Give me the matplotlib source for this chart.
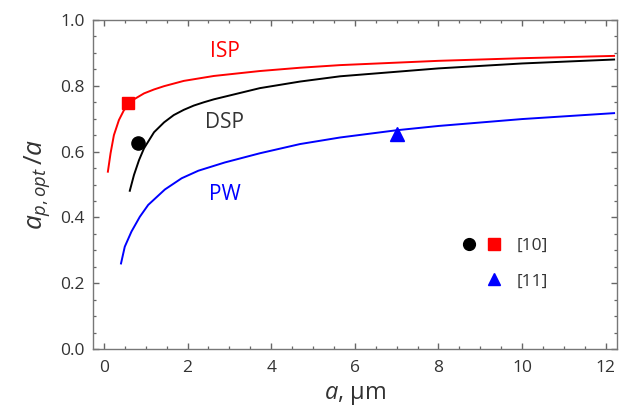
import matplotlib
matplotlib.use("Agg")
import matplotlib.pyplot as plt
from matplotlib.ticker import MultipleLocator
from matplotlib.legend_handler import HandlerTuple
from matplotlib.lines import Line2D

# curve readings (a in um, a_p,opt / a)
isp_x = [0.096, 0.16, 0.24, 0.36, 0.48, 0.72, 0.96, 1.20, 1.44, 1.91, 2.63, 3.73, 4.69, 5.65, 8.00, 10.0, 12.2]
isp_y = [0.539, 0.595, 0.650, 0.696, 0.726, 0.759, 0.777, 0.789, 0.799, 0.815, 0.830, 0.845, 0.855, 0.863, 0.876, 0.884, 0.891]

dsp_x = [0.62, 0.72, 0.84, 0.96, 1.20, 1.44, 1.67, 1.91, 2.15, 2.39, 2.63, 3.73, 4.69, 5.65, 8.00, 10.0, 12.2]
dsp_y = [0.481, 0.529, 0.574, 0.610, 0.659, 0.689, 0.711, 0.727, 0.740, 0.750, 0.759, 0.793, 0.813, 0.829, 0.853, 0.868, 0.880]

pw_x = [0.41, 0.50, 0.66, 0.86, 1.06, 1.46, 1.86, 2.26, 2.89, 3.73, 4.69, 5.65, 7.00, 8.00, 10.0, 12.2]
pw_y = [0.260, 0.311, 0.357, 0.402, 0.438, 0.485, 0.519, 0.542, 0.567, 0.595, 0.623, 0.643, 0.665, 0.678, 0.699, 0.717]

# literature points
ref10_isp = (0.58, 0.749)
ref10_dsp = (0.81, 0.625)
ref11_pw = (7.0, 0.655)

curve_labels = ["ISP", "DSP", "PW"]
label_pos = [(2.9, 0.903), (2.88, 0.69), (2.89, 0.47)]
ref_labels = ["[10]", "[11]"]

TEXT = "#333333"
plt.rcParams["font.family"] = ["Open Sans", "DejaVu Sans"]
plt.rcParams["mathtext.fontset"] = "custom"
plt.rcParams["mathtext.it"] = "Open Sans:italic"
plt.rcParams["mathtext.rm"] = "Open Sans"

fig = plt.figure(figsize=(6.22, 4.09), dpi=100)
ax = fig.add_axes([0.1495, 0.1467, 0.8425, 0.8043])

ax.plot(isp_x, isp_y, color="#ff0000", lw=1.4)
ax.plot(dsp_x, dsp_y, color="black", lw=1.4)
ax.plot(pw_x, pw_y, color="#0000ff", lw=1.4)

ax.plot(*ref10_isp, "s", color="#ff0000", ms=8.5)
ax.plot(*ref10_dsp, "o", color="black", ms=9.5)
ax.plot(*ref11_pw, "^", color="#0000ff", ms=9.5)

colors = ["#ff0000", TEXT, "#0000ff"]
for lab, (lx, ly), c in zip(curve_labels, label_pos, colors):
    ax.text(lx, ly, lab, color=c, fontsize=15, ha="center", va="center")

ax.set_xlim(-0.26, 12.27)
ax.set_ylim(0.0, 1.0)
ax.xaxis.set_major_locator(MultipleLocator(2))
ax.xaxis.set_minor_locator(MultipleLocator(0.5))
ax.yaxis.set_major_locator(MultipleLocator(0.2))
ax.yaxis.set_minor_locator(MultipleLocator(0.05))
ax.yaxis.set_major_formatter(lambda v, p: f"{v:.1f}")

ax.tick_params(which="both", direction="in", top=True, right=True,
               color="#666666", labelcolor=TEXT, labelsize=12.5)
ax.tick_params(which="major", length=4.5, width=1.0, pad=6)
ax.tick_params(axis="x", which="major", pad=8)
ax.tick_params(which="minor", length=2.5, width=0.9)
for sp in ax.spines.values():
    sp.set_color("#777777")
    sp.set_linewidth(1.0)

ax.set_xlabel(r"$a$, µm", fontsize=17, color=TEXT, labelpad=5)
ax.set_ylabel(r"$a_{p,opt}\,/a$", fontsize=19, color=TEXT, labelpad=6)

# legend: circle + square for [10], triangle (right slot) for [11]
h_circ = Line2D([], [], ls="none", marker="o", color="black", ms=8.5)
h_sq = Line2D([], [], ls="none", marker="s", color="#ff0000", ms=8)
h_blank = Line2D([], [], ls="none", marker="")
h_tri = Line2D([], [], ls="none", marker="^", color="#0000ff", ms=8.5)
ax.legend([(h_circ, h_sq), (h_blank, h_tri)], ref_labels,
          handler_map={tuple: HandlerTuple(ndivide=None, pad=0.35)},
          loc="center left", bbox_to_anchor=(0.698, 0.259), frameon=False,
          borderpad=0, borderaxespad=0, handlelength=2.6, handletextpad=0.75,
          labelspacing=1.1, fontsize=12.5, labelcolor=TEXT)

fig.savefig("out.png", dpi=100)
